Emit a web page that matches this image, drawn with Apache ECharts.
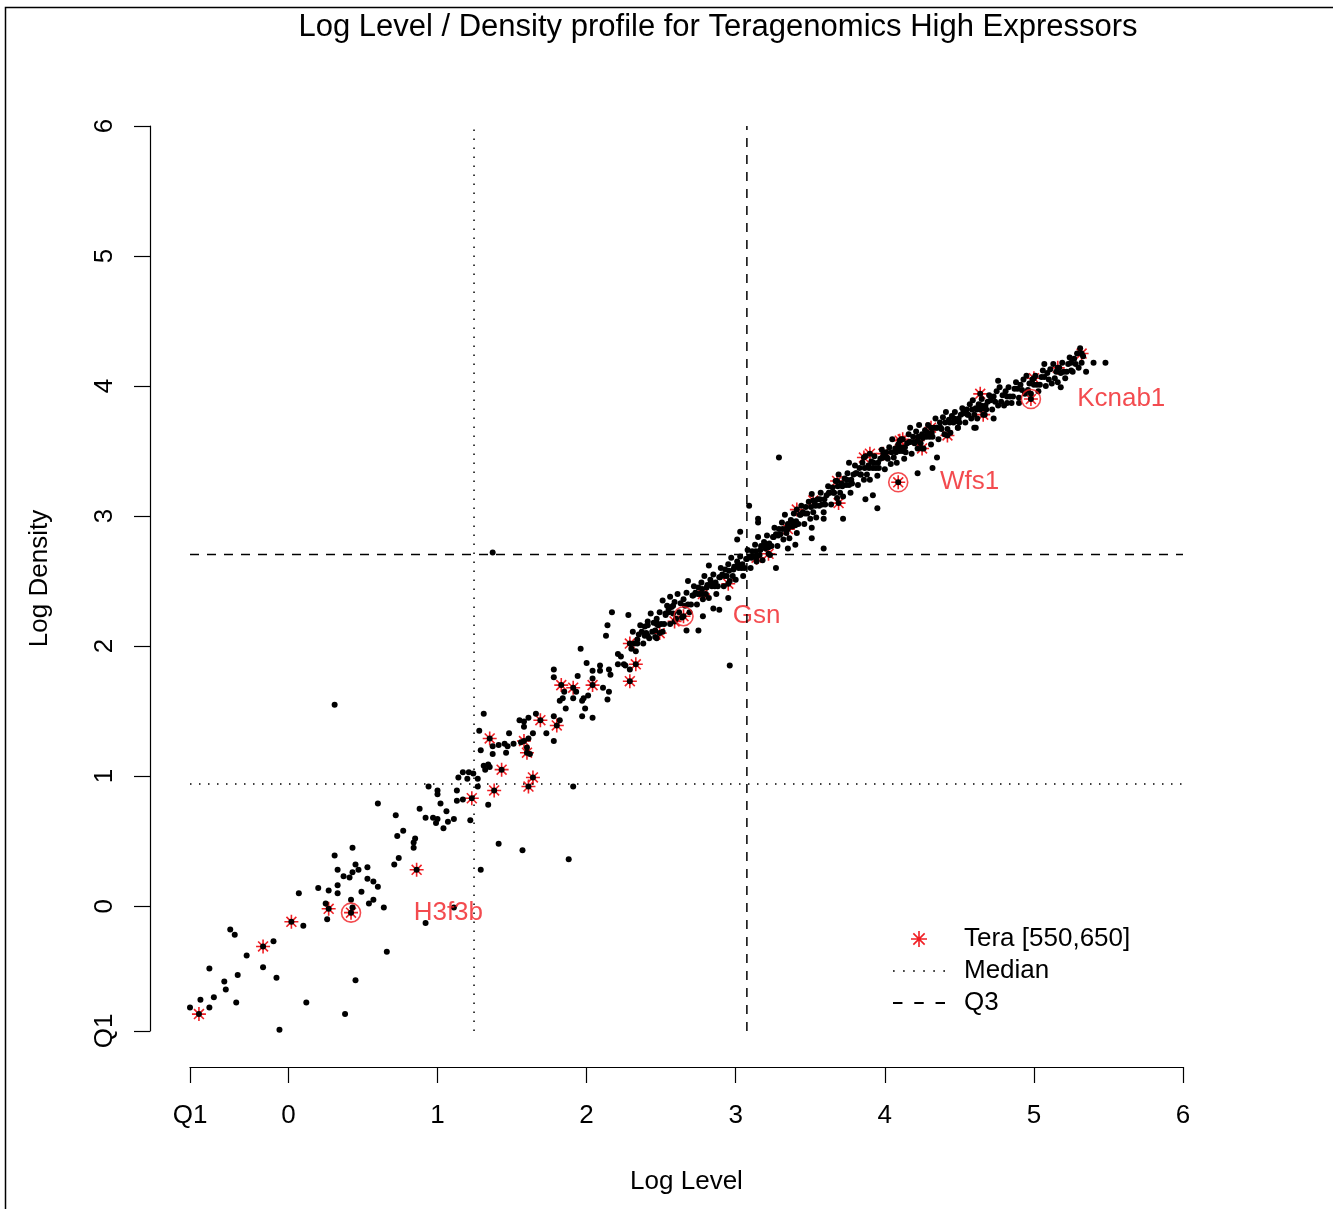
<!DOCTYPE html>
<html>
<head>
<meta charset="utf-8">
<script src="https://cdn.jsdelivr.net/npm/echarts@6/dist/echarts.min.js"></script>
<style>
  html, body { margin: 0; padding: 0; background: #fff; }
  #chart { width: 1333px; height: 1209px; }
</style>
</head>
<body>
<div id="chart"></div>
<script>
// axis limits and reference quantiles (log scale)
const q1X = -0.66, q1Y = -0.96, axisMax = 6;
const medianX = 1.245, medianY = 0.94;
const q3X = 3.075, q3Y = 2.705;
const xTicks = [q1X, 0, 1, 2, 3, 4, 5, 6];
const yTicks = [q1Y, 0, 1, 2, 3, 4, 5, 6];

// all genes (log level, log density)
const sparsePts = [
  [-0.66,-0.78],[-0.53,-0.78],[-0.59,-0.72],[-0.50,-0.70],[-0.35,-0.74],[-0.43,-0.58],[-0.42,-0.64],
  [-0.53,-0.48],[-0.34,-0.53],[-0.28,-0.38],[-0.17,-0.47],[-0.08,-0.55],[-0.39,-0.18],[-0.36,-0.22],
  [-0.10,-0.27],[-0.06,-0.95],[0.12,-0.74],[0.38,-0.83],[0.45,-0.57],[0.66,-0.35],[0.10,-0.15],
  [0.07,0.10],[0.26,-0.10],[0.25,0.02],[0.20,0.14],[0.27,0.12],[0.33,0.16],[0.33,0.10],[0.43,-0.01],
  [0.42,0.05],[0.49,0.11],[0.57,0.05],[0.54,0.02],[0.64,-0.01],[0.53,0.21],[0.57,0.19],[0.60,0.15],
  [0.53,0.30],[0.33,0.28],[0.45,0.32],[0.47,0.28],[0.43,0.26],[0.37,0.23],[0.41,0.22],[0.31,0.39],
  [0.43,0.45],[0.92,-0.13],[1.11,-0.01],[0.31,1.55],
  [0.60,0.79],[0.72,0.70],[0.73,0.54],[0.77,0.58],[0.84,0.49],[0.84,0.45],[0.85,0.52],[0.74,0.37],
  [0.71,0.32],[0.88,0.75],[0.92,0.68],[0.97,0.68],[0.99,0.64],[1.00,0.67],[1.02,0.79],[1.04,0.60],
  [1.06,0.73],[1.07,0.65],[1.11,0.67],[0.94,0.92],[1.00,0.89],[1.00,0.86],[1.13,0.89],[1.13,0.81],
  [1.17,0.82],[1.14,0.99],[1.17,1.03],[1.21,1.03],[1.20,0.98],[1.24,1.02],[1.27,0.98],[1.27,0.92],
  [1.31,1.08],[1.32,1.05],[1.34,1.09],[1.35,1.07],[1.37,1.17],[1.22,0.66],[1.34,0.78],[1.41,0.48],
  [1.57,0.43],[1.29,0.28],[1.37,2.72],[1.88,0.36],[1.91,0.92],[2.96,1.85],[3.29,3.45],
  [1.29,1.20],[1.28,1.35],[1.31,1.48],[1.37,1.23],[1.41,1.24],[1.46,1.18],[1.45,1.25],[1.47,1.23],
  [1.48,1.33],[1.51,1.25],[1.56,1.26],[1.58,1.42],[1.58,1.38],[1.61,1.29],[1.60,1.22],[1.62,1.17],
  [1.66,1.48],[1.64,1.33],[1.61,1.45],[1.55,1.43],[1.73,1.33],[1.78,1.27],[1.78,1.46],[1.82,1.43],
  [1.86,1.52],[1.82,1.58],[1.84,1.60],[1.85,1.65],[1.78,1.82],[1.78,1.76],[1.96,1.98],[1.93,1.65],
  [1.91,1.60],[1.97,1.58],[1.98,1.60],[1.94,1.77],[2.00,1.87],[2.04,1.81],[2.04,1.75],[2.01,1.62],
  [1.99,1.52],[1.97,1.46],[2.04,1.45],[2.09,1.81],[2.09,1.85],[2.15,1.82],[2.16,1.78],[2.15,1.65],
  [2.14,1.59],[2.11,1.68],[2.13,2.08],[2.14,2.16],[2.17,2.26],[2.28,2.24],[2.21,1.94],[2.23,1.92],
  [2.21,1.86],[2.25,1.86],[2.30,1.98],[2.29,1.82],[2.26,1.85],[2.34,2.05],[2.41,2.08],[2.41,2.16],
  [2.39,2.08],[2.47,2.17],[2.47,2.06],[2.46,2.12],[2.53,2.25],[2.55,2.28],[2.58,2.31],[2.67,2.12],
  [2.75,2.12],[2.78,2.23],[2.85,2.29],[2.89,2.28],[2.82,2.62],[2.68,2.50],[2.56,2.38],[2.51,2.35],
  [2.47,2.18],
  [3.09,3.08],[3.15,2.98],[3.15,2.95],[3.03,2.88],[3.01,2.82],[3.27,2.60],[2.95,2.37],[3.59,2.75],
  [3.40,2.78],[3.35,2.75],[3.51,2.91],[3.51,2.83],[3.72,2.98],[3.59,2.98],[3.95,3.06],[3.92,3.16],
  [3.87,3.13],[4.22,3.33],[4.35,3.45],[4.32,3.37],[3.76,3.41],[4.60,3.68],[4.17,3.68],[4.49,3.68],
  [4.61,3.68],[4.73,3.75],[4.82,3.87],[4.90,3.87],[4.76,4.04],[5.07,4.17],[5.18,3.99],[5.25,4.12],
  [5.35,4.11],[5.40,4.18],[5.48,4.18]
];

// the dense band along the diagonal
const bandPts = [
  [2.31,2.11],[2.32,2.02],[2.33,1.96],[2.34,2.02],[2.35,2.09],[2.36,2.16],[2.37,2.11],[2.38,2.02],[2.39,2.15],
  [2.40,2.10],[2.41,2.19],[2.42,2.06],[2.43,2.25],[2.44,2.11],[2.45,2.18],[2.46,2.07],[2.47,2.21],[2.48,2.16],
  [2.49,2.26],[2.50,2.17],[2.51,2.11],[2.52,2.17],[2.53,2.24],[2.54,2.31],[2.55,2.26],[2.56,2.17],[2.57,2.30],
  [2.58,2.25],[2.59,2.34],[2.60,2.21],[2.61,2.40],[2.62,2.26],[2.63,2.33],[2.64,2.22],[2.65,2.36],[2.66,2.31],
  [2.67,2.41],[2.68,2.32],[2.69,2.26],[2.70,2.32],[2.71,2.39],[2.72,2.46],[2.73,2.41],[2.74,2.32],[2.75,2.45],
  [2.76,2.40],[2.77,2.49],[2.78,2.36],[2.79,2.54],[2.80,2.40],[2.81,2.47],[2.82,2.37],[2.83,2.51],[2.84,2.46],
  [2.85,2.55],[2.86,2.46],[2.87,2.40],[2.88,2.46],[2.89,2.53],[2.90,2.60],[2.91,2.55],[2.92,2.46],[2.93,2.59],
  [2.94,2.54],[2.95,2.63],[2.96,2.50],[2.97,2.68],[2.98,2.54],[2.99,2.61],[3.00,2.51],[3.01,2.65],[3.02,2.60],
  [3.03,2.69],[3.04,2.60],[3.05,2.54],[3.06,2.60],[3.07,2.67],[3.08,2.74],[3.09,2.69],[3.10,2.60],[3.11,2.73],
  [3.12,2.69],[3.13,2.78],[3.14,2.65],[3.15,2.84],[3.16,2.70],[3.17,2.77],[3.18,2.66],[3.19,2.80],[3.20,2.75],
  [3.21,2.85],[3.22,2.76],[3.23,2.70],[3.24,2.77],[3.25,2.84],[3.26,2.91],[3.27,2.86],[3.28,2.77],[3.29,2.90],
  [3.30,2.86],[3.31,2.95],[3.32,2.82],[3.33,3.01],[3.34,2.87],[3.35,2.94],[3.36,2.83],[3.37,2.97],[3.38,2.92],
  [3.39,3.02],[3.40,2.93],[3.41,2.87],[3.42,2.94],[3.43,3.01],[3.44,3.08],[3.45,3.03],[3.46,2.94],[3.47,3.07],
  [3.48,3.02],[3.49,3.11],[3.50,2.98],[3.51,3.17],[3.52,3.03],[3.53,3.10],[3.54,2.99],[3.55,3.13],[3.56,3.08],
  [3.57,3.18],[3.58,3.09],[3.59,3.03],[3.60,3.09],[3.61,3.16],[3.62,3.23],[3.63,3.18],[3.64,3.09],[3.65,3.22],
  [3.66,3.18],[3.67,3.27],[3.68,3.14],[3.69,3.32],[3.70,3.18],[3.71,3.25],[3.72,3.15],[3.73,3.29],[3.74,3.24],
  [3.75,3.33],[3.76,3.24],[3.77,3.18],[3.78,3.25],[3.79,3.32],[3.80,3.39],[3.81,3.33],[3.82,3.24],[3.83,3.37],
  [3.84,3.32],[3.85,3.41],[3.86,3.28],[3.87,3.46],[3.88,3.32],[3.89,3.39],[3.90,3.28],[3.91,3.42],[3.92,3.37],
  [3.93,3.46],[3.94,3.37],[3.95,3.31],[3.96,3.37],[3.97,3.44],[3.98,3.51],[3.99,3.45],[4.00,3.36],[4.01,3.49],
  [4.02,3.44],[4.03,3.53],[4.04,3.40],[4.05,3.59],[4.06,3.45],[4.07,3.52],[4.08,3.41],[4.09,3.55],[4.10,3.50],
  [4.11,3.59],[4.12,3.50],[4.13,3.44],[4.14,3.49],[4.15,3.56],[4.16,3.63],[4.17,3.57],[4.18,3.48],[4.19,3.61],
  [4.20,3.56],[4.21,3.65],[4.22,3.52],[4.23,3.70],[4.24,3.56],[4.25,3.63],[4.26,3.52],[4.27,3.66],[4.28,3.61],
  [4.29,3.70],[4.30,3.61],[4.31,3.55],[4.32,3.61],[4.33,3.68],[4.34,3.75],[4.35,3.68],[4.36,3.59],[4.37,3.72],
  [4.38,3.67],[4.39,3.76],[4.40,3.63],[4.41,3.80],[4.42,3.67],[4.43,3.74],[4.44,3.64],[4.45,3.77],[4.46,3.72],
  [4.47,3.80],[4.48,3.73],[4.49,3.68],[4.50,3.72],[4.51,3.78],[4.52,3.83],[4.53,3.79],[4.54,3.72],[4.55,3.82],
  [4.56,3.78],[4.57,3.86],[4.58,3.75],[4.59,3.89],[4.60,3.78],[4.61,3.83],[4.62,3.75],[4.63,3.86],[4.64,3.82],
  [4.65,3.90],[4.66,3.83],[4.67,3.78],[4.68,3.82],[4.69,3.88],[4.70,3.93],[4.71,3.89],[4.72,3.82],[4.73,3.92],
  [4.74,3.88],[4.75,3.96],[4.76,3.85],[4.77,3.99],[4.78,3.88],[4.79,3.93],[4.80,3.85],[4.81,3.96],[4.82,3.92],
  [4.83,3.99],[4.84,3.92],[4.85,3.87],[4.86,3.92],[4.87,3.98],[4.88,4.03],[4.89,3.98],[4.90,3.91],[4.91,4.01],
  [4.92,3.97],[4.93,4.05],[4.94,3.94],[4.95,4.08],[4.96,3.97],[4.97,4.02],[4.98,3.94],[4.99,4.05],[5.00,4.01],
  [5.01,4.08],[5.02,4.01],[5.03,3.96],[5.04,4.01],[5.05,4.07],[5.06,4.12],[5.07,4.07],[5.08,4.00],[5.09,4.10],
  [5.10,4.05],[5.11,4.13],[5.12,4.02],[5.13,4.17],[5.14,4.06],[5.15,4.11],[5.16,4.03],[5.17,4.14],[5.18,4.10],
  [5.19,4.18],[5.20,4.11],[5.21,4.06],[5.22,4.11],[5.23,4.17],[5.24,4.22],[5.25,4.18],[5.26,4.11],[5.27,4.21],
  [5.28,4.17],[5.29,4.25],[5.30,4.14],[5.31,4.29],[5.32,4.18],[5.33,4.23],
  [2.715,2.39],[2.745,2.40],[2.775,2.44],[2.805,2.45],[2.835,2.49],[2.865,2.49],[2.895,2.53],[2.925,2.54],
  [2.955,2.58],[2.985,2.59],[3.015,2.63],[3.045,2.63],[3.075,2.67],[3.105,2.68],[3.135,2.73],[3.165,2.74],
  [3.195,2.79],[3.225,2.79],[3.255,2.84],[3.285,2.85],[3.315,2.90],[3.345,2.91],[3.375,2.96],[3.405,2.96],
  [3.435,3.01],[3.465,3.02],[3.505,3.07],[3.535,3.08],[3.565,3.13],[3.595,3.13],[3.625,3.18],[3.655,3.18],
  [3.685,3.23],[3.715,3.23],[3.745,3.28],[3.775,3.28],[3.805,3.33],[3.835,3.32],[3.865,3.37],[3.895,3.37],
  [3.925,3.41],[3.955,3.41],[3.985,3.45],[4.015,3.45],[4.045,3.49],[4.075,3.49],[4.105,3.53],[4.135,3.53],
  [4.165,3.57],[4.195,3.57],[4.225,3.61],[4.255,3.60],[4.285,3.64],[4.315,3.64],[4.345,3.68],[4.375,3.68],
  [4.405,3.72],[4.435,3.72],[4.465,3.75],[4.495,3.75],[4.525,3.79],[4.555,3.78],[4.585,3.82],[4.615,3.82],
  [4.645,3.85],[4.675,3.85]
];

// Tera [550,650] genes (drawn as red asterisks)
const teraPts = [
  [-0.60,-0.83],[-0.17,-0.31],[0.02,-0.12],[0.27,-0.02],[0.42,-0.05],[0.86,0.28],[1.23,0.83],[1.38,0.89],
  [1.35,1.29],[1.43,1.05],[1.61,0.92],[1.64,0.99],[1.60,1.18],[1.58,1.27],[1.69,1.43],[1.80,1.39],
  [1.83,1.70],[1.91,1.68],[2.04,1.70],[2.29,2.02],[2.33,1.86],[2.29,1.73],[2.49,2.10],[2.59,2.19],
  [2.65,2.23],[2.78,2.40],[2.95,2.48],[3.14,2.68],[3.22,2.71],[3.35,2.90],[3.41,3.05],[3.52,3.12],
  [3.69,3.10],[3.68,3.27],[3.86,3.45],[3.90,3.48],[3.99,3.48],[4.09,3.26],[4.10,3.58],[4.12,3.59],
  [4.22,3.58],[4.25,3.52],[4.31,3.68],[4.42,3.62],[4.64,3.94],[4.66,3.78],[4.98,3.90],[5.00,4.06],
  [5.16,4.14],[5.32,4.25]
];

// highlighted genes
const hiGenes = ['Kcnab1', 'Wfs1', 'Gsn', 'H3f3b'];
const hiX = [4.98, 4.09, 2.65, 0.42];
const hiY = [3.90, 3.26, 2.23, -0.05];
const hiLabelX = [5.29, 4.37, 2.98, 0.84];

const RED = '#f01e23';
const FONT = '"Liberation Sans", Arial, Helvetica, sans-serif';
const STAR = 'path://M0,-10L0,10M-10,0L10,0M-7.07,-7.07L7.07,7.07M-7.07,7.07L7.07,-7.07';
// legend samples for the reference lines
const DOTS_ICON = 'path://M0,0h1.5v1.5h-1.5zM9,0h1.5v1.5h-1.5zM18,0h1.5v1.5h-1.5zM27,0h1.5v1.5h-1.5zM36,0h1.5v1.5h-1.5zM45,0h1.5v1.5h-1.5z';
const DASH_ICON = 'path://M0,0h8v1.5h-8zM18,0h8v1.5h-8zM36,0h8v1.5h-8z';

const chart = echarts.init(document.getElementById('chart'));

const tickLabel = v => (v < -0.5 ? 'Q1' : String(v));

const option = {
  animation: false,
  backgroundColor: '#fff',
  textStyle: { fontFamily: FONT },
  grid: { left: 190, right: 150, top: 126, bottom: 178 },
  xAxis: {
    type: 'value', min: q1X, max: axisMax, offset: 36,
    name: 'Log Level', nameLocation: 'middle', nameGap: 102,
    nameTextStyle: { fontSize: 26, color: '#000', fontFamily: FONT },
    axisLine: { onZero: false, lineStyle: { color: '#000', width: 1.2 } },
    axisTick: { length: 16, customValues: xTicks, lineStyle: { color: '#000', width: 1.2 } },
    axisLabel: { customValues: xTicks, formatter: tickLabel, fontSize: 26, color: '#000', margin: 36, fontFamily: FONT },
    splitLine: { show: false }
  },
  yAxis: {
    type: 'value', min: q1Y, max: axisMax, offset: 40,
    name: 'Log Density', nameLocation: 'middle', nameGap: 97,
    nameTextStyle: { fontSize: 26, color: '#000', fontFamily: FONT },
    axisLine: { onZero: false, lineStyle: { color: '#000', width: 1.2 } },
    axisTick: { length: 16, customValues: yTicks, lineStyle: { color: '#000', width: 1.2 } },
    axisLabel: { customValues: yTicks, formatter: tickLabel, rotate: 90, fontSize: 26, color: '#000', margin: 32, fontFamily: FONT },
    splitLine: { show: false }
  },
  legend: {
    orient: 'vertical', left: 888, top: 921,
    itemWidth: 52, itemHeight: 16, itemGap: 6,
    selectedMode: false,
    textStyle: { fontSize: 26, color: '#000', fontFamily: FONT, padding: [0, 0, 0, 14] },
    data: [
      { name: 'Tera [550,650]', icon: STAR, itemStyle: { color: 'rgba(0,0,0,0)', borderColor: RED, borderWidth: 1.6 } },
      { name: 'Median', icon: DOTS_ICON, itemStyle: { color: '#000', borderWidth: 0 } },
      { name: 'Q3', icon: DASH_ICON, itemStyle: { color: '#000', borderWidth: 0 } }
    ]
  },
  graphic: [
    { type: 'polyline', silent: true, shape: { points: [[5.5, 1209], [5.5, 7.5], [1333, 7.5]] },
      style: { stroke: '#000', lineWidth: 1.5, fill: null } },
    { type: 'text', silent: true, x: 718, y: 27,
      style: { text: 'Log Level / Density profile for Teragenomics High Expressors',
        font: '31px ' + FONT, fill: '#000', textAlign: 'center', textVerticalAlign: 'middle' } }
  ],
  series: [
    { name: 'Median', type: 'line', symbol: 'none', silent: true, color: '#000',
      data: [[medianX, q1Y], [medianX, axisMax]],
      lineStyle: { color: '#000', width: 1.5, type: [1.5, 7.5] } },
    { name: 'Median', type: 'line', symbol: 'none', silent: true, color: '#000',
      data: [[q1X, medianY], [axisMax, medianY]],
      lineStyle: { color: '#000', width: 1.5, type: [1.5, 7.5] } },
    { name: 'Q3', type: 'line', symbol: 'none', silent: true, color: '#000',
      data: [[q3X, q1Y], [q3X, axisMax]],
      lineStyle: { color: '#000', width: 1.5, type: [9, 8] } },
    { name: 'Q3', type: 'line', symbol: 'none', silent: true, color: '#000',
      data: [[q1X, q3Y], [axisMax, q3Y]],
      lineStyle: { color: '#000', width: 1.5, type: [9, 8] } },
    { name: 'Tera [550,650]', type: 'scatter', silent: true, symbol: STAR, symbolSize: 14,
      data: teraPts,
      itemStyle: { color: 'rgba(0,0,0,0)', borderColor: RED, borderWidth: 1.6, opacity: 1 } },
    { name: 'all', type: 'scatter', silent: true, symbol: 'circle', symbolSize: 6,
      data: sparsePts.concat(bandPts, teraPts),
      itemStyle: { color: '#000', opacity: 1 } },
    { name: 'circled', type: 'scatter', silent: true, symbol: 'circle', symbolSize: 19,
      data: hiX.map((x, i) => [x, hiY[i]]),
      itemStyle: { color: 'rgba(0,0,0,0)', borderColor: RED, borderWidth: 1.6 } },
    { name: 'labels', type: 'scatter', silent: true, symbolSize: 0,
      data: hiGenes.map((g, i) => ({ name: g, value: [hiLabelX[i], hiY[i]] })),
      label: { show: true, formatter: '{b}', position: 'right', distance: 0,
        fontSize: 26, color: RED, fontFamily: FONT } }
  ]
};

chart.setOption(option);
</script>
</body>
</html>
